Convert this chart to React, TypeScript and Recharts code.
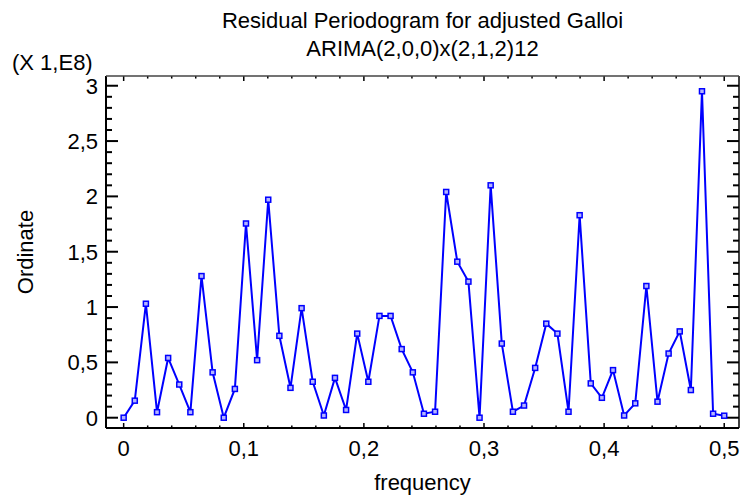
import React from 'react';
import { LineChart, Line, XAxis, YAxis, ReferenceLine } from 'recharts';

// periodogram ordinates (X 1,E8) at the Fourier frequencies k/108, k = 0..54
const ordinate = [
    0.0, 0.154, 1.03, 0.05, 0.54, 0.3, 0.05, 1.28, 0.41, 0.0,
    0.26, 1.755, 0.52, 1.97, 0.74, 0.27, 0.99, 0.325, 0.02, 0.36,
    0.07, 0.76, 0.325, 0.92, 0.92, 0.62, 0.41, 0.036, 0.054, 2.04,
    1.41, 1.23, 0.0, 2.1, 0.67, 0.054, 0.11, 0.45, 0.85, 0.76,
    0.054, 1.83, 0.31, 0.18, 0.43, 0.02, 0.13, 1.19, 0.145, 0.58,
    0.78, 0.25, 2.95, 0.036, 0.018,
];
const frequency = ordinate.map((_, k) => k / 108);

const xTicks = [0, 0.1, 0.2, 0.3, 0.4, 0.5];
const yTicks = [0, 0.5, 1, 1.5, 2, 2.5, 3];

const data = frequency.map((f, i) => ({ f, v: ordinate[i] }));

// axis ranges (the frame sits a little outside the tick range)
const X_MIN = -0.0147;
const X_MAX = 0.5123;
const Y_MIN = -0.093;
const Y_MAX = 3.088;

// minor tick positions (every 5th is a major one)
const xMinor = Array.from({ length: 26 }, (_, i) => Math.round(i * 2) / 100);
const yMinor = Array.from({ length: 31 }, (_, i) => i / 10);

const FONT = '"Liberation Sans", Arial, sans-serif';
const fmt = (v: number) => String(v).replace('.', ',');

const SquareDot = (props: any) => {
    const { cx, cy, index } = props;
    if (cx == null || cy == null) return <g key={`d-${index}`} />;
    return (
        <rect
            key={`d-${index}`}
            x={cx - 2.5}
            y={cy - 2.5}
            width={5}
            height={5}
            fill="#b4b4ff"
            stroke="#0000ff"
            strokeWidth={1.5}
        />
    );
};

export default function App() {
    // tick lengths in data units
    const xTickMajor = 0.045, xTickMinor = 0.023;   // vertical ticks on top/bottom
    const yTickMajor = 0.01, yTickMinor = 0.005;    // horizontal ticks on left/right

    return (
        <div style={{ position: 'absolute', left: 0, top: 0, width: 741, height: 499, background: '#fff', fontFamily: FONT }}>
            <LineChart width={741} height={499} data={data} margin={{ top: 76, right: 2, bottom: 0, left: 0 }}>
                <XAxis
                    dataKey="f"
                    type="number"
                    domain={[X_MIN, X_MAX]}
                    ticks={xTicks}
                    interval={0}
                    allowDataOverflow
                    axisLine={false}
                    tickLine={false}
                    tickSize={0}
                    tickMargin={12}
                    height={71}
                    tick={{ fill: '#000', fontSize: 22 }}
                    tickFormatter={fmt}
                />
                <YAxis
                    type="number"
                    domain={[Y_MIN, Y_MAX]}
                    ticks={yTicks}
                    interval={0}
                    allowDataOverflow
                    axisLine={false}
                    tickLine={false}
                    tickSize={0}
                    tickMargin={8}
                    width={106}
                    tick={{ fill: '#000', fontSize: 22 }}
                    tickFormatter={fmt}
                />

                {xMinor.map((t, i) => {
                    const len = i % 5 === 0 ? xTickMajor : xTickMinor;
                    return [
                        <ReferenceLine key={`xb-${i}`} ifOverflow="visible" stroke="#000" strokeWidth={1.5}
                            segment={[{ x: t, y: Y_MIN }, { x: t, y: Y_MIN + len }]} />,
                        <ReferenceLine key={`xt-${i}`} ifOverflow="visible" stroke="#000" strokeWidth={1.5}
                            segment={[{ x: t, y: Y_MAX }, { x: t, y: Y_MAX - len }]} />,
                    ];
                })}
                {yMinor.map((t, i) => {
                    const len = i % 5 === 0 ? yTickMajor : yTickMinor;
                    return [
                        <ReferenceLine key={`yl-${i}`} ifOverflow="visible" stroke="#000" strokeWidth={2}
                            segment={[{ x: X_MIN, y: t }, { x: X_MIN + len, y: t }]} />,
                        <ReferenceLine key={`yr-${i}`} ifOverflow="visible" stroke="#000" strokeWidth={2}
                            segment={[{ x: X_MAX, y: t }, { x: X_MAX - len, y: t }]} />,
                    ];
                })}

                {/* frame */}
                <ReferenceLine x={X_MIN} ifOverflow="visible" stroke="#000" strokeWidth={2} />
                <ReferenceLine y={Y_MIN} ifOverflow="visible" stroke="#000" strokeWidth={2} />
                <ReferenceLine x={X_MAX} ifOverflow="visible" stroke="#000" strokeWidth={1.5} />
                <ReferenceLine y={Y_MAX} ifOverflow="visible" stroke="#444" strokeWidth={1.5} />

                <Line
                    dataKey="v"
                    type="linear"
                    stroke="#0000ff"
                    strokeWidth={2}
                    dot={SquareDot}
                    activeDot={false}
                    isAnimationActive={false}
                />
            </LineChart>

            <svg width={741} height={499} style={{ position: 'absolute', left: 0, top: 0, pointerEvents: 'none' }}>
                <g fill="#000" fontSize={22} fontFamily={FONT}>
                    <text x={422.5} y={28} textAnchor="middle">Residual Periodogram for adjusted Galloi</text>
                    <text x={422.5} y={56} textAnchor="middle">ARIMA(2,0,0)x(2,1,2)12</text>
                    <text x={12} y={70}>(X 1,E8)</text>
                    <text x={422.5} y={490} textAnchor="middle">frequency</text>
                    <text transform="translate(33,252) rotate(-90)" textAnchor="middle">Ordinate</text>
                </g>
            </svg>
        </div>
    );
}
